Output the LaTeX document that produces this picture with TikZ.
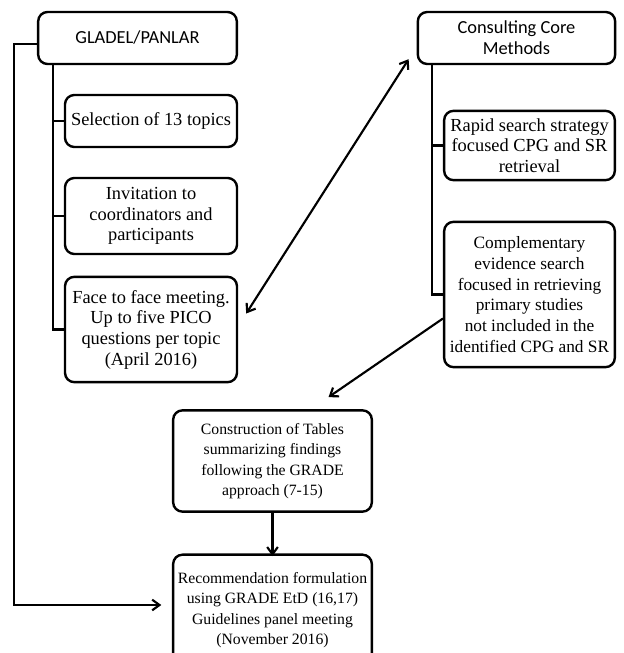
\documentclass[tikz,border=0pt]{standalone}
\usepackage{fontspec}
\setmainfont{Liberation Serif}
\newfontfamily\headfont{Carlito}
\usetikzlibrary{arrows.meta}
\begin{document}
\begin{tikzpicture}[x=0.75pt,y=-0.75pt,>={Straight Barb[length=5.5pt,width=8pt]}]
        \tikzstyle{task}=[draw=black,line width=1.8pt,rounded corners=7pt,align=center,inner sep=1pt,font=\fontsize{13.8}{15.5}\selectfont]
        \tikzstyle{wide}=[task,font=\fontsize{13}{15.5}\selectfont]
        \tikzstyle{low}=[task,font=\fontsize{11.8}{15.2}\selectfont]
        \tikzstyle{head}=[task,font=\headfont\fontsize{13.8}{15.5}\selectfont]
        \tikzstyle{link}=[draw,line width=1.6pt]
        \useasboundingbox (0,0) rectangle (624,653);
        % left column
        \node [head,minimum width=149pt,minimum height=39pt] (gladel) at (137.5,38) {GLADEL/PANLAR};
        \node [task,minimum width=129pt,minimum height=39pt] (sel) at (151,121) {Selection of 13 topics};
        \node [task,minimum width=129pt,minimum height=57pt] (inv) at (151,216) {Invitation to\\coordinators and\\participants};
        \node [task,minimum width=129pt,minimum height=79pt] (face) at (151,329.5) {Face to face meeting.\\Up to five PICO\\questions per topic\\(April 2016)};
        % right column
        \node [head,minimum width=148pt,minimum height=39pt] (core) at (516.5,38) {Consulting Core\\Methods};
        \node [task,minimum width=128pt,minimum height=52pt] (rapid) at (529.5,145.5) {Rapid search strategy\\focused CPG and SR\\retrieval};
        \node [wide,minimum width=128pt,minimum height=109pt] (compl) at (529.5,294.5) {Complementary\\evidence search\\focused in retrieving\\primary studies\\not included in the\\identified CPG and SR};
        % bottom
        \node [low,minimum width=149pt,minimum height=76pt] (tables) at (272.5,461) {Construction of Tables\\summarizing findings\\following the GRADE\\approach (7-15)};
        \node [low,minimum width=149pt,minimum height=83pt] (recom) at (272.5,610) {Recommendation formulation\\using GRADE EtD (16,17)\\Guidelines panel meeting\\(November 2016)};
        \coordinate (ltrunk) at (53,64);
        \coordinate (rtrunk) at (432,64);
        \coordinate (outer) at (14,605);
        \path[link] (ltrunk) -- (face.west -| ltrunk) -- (face.west);
        \path[link] (sel.west -| ltrunk) -- (sel.west);
        \path[link] (inv.west -| ltrunk) -- (inv.west);
        \path[link] (rtrunk) -- (compl.west -| rtrunk) -- (compl.west);
        \path[link] (rapid.west -| rtrunk) -- (rapid.west);
        \path[link,->] ([yshift=-4.5pt]gladel.west) -| (outer) -- ([xshift=-8]recom.west |- outer);
        \path[link,<->] ([shift={(8,-16)}]face.east) -- ([shift={(-8,-6)}]core.south west);
        \path[link,->] ([shift={(0,24)}]compl.west) -- ([shift={(56,-12)}]tables.north);
        \path[link,->] (tables) -- ([yshift=-2]recom.north);
\end{tikzpicture}
\end{document}
